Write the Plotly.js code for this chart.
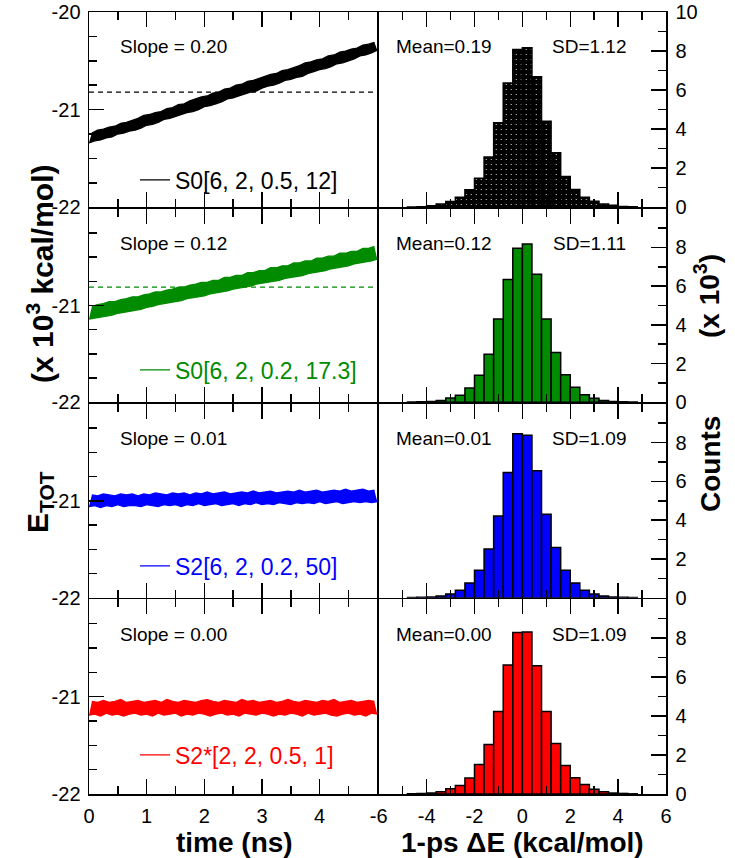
<!DOCTYPE html>
<html><head><meta charset="utf-8">
<script src="https://cdn.plot.ly/plotly-3.0.1.min.js"></script>
<style>html,body{margin:0;padding:0;background:#fff}#chart{width:735px;height:858px}</style>
</head><body><div id="chart"></div>
<script>
// ---- data (lower / upper envelopes of the noisy energy traces) ----
const timeLow = [0,0.1,0.2,0.3,0.4,0.5,0.6,0.7,0.8,0.9,1,1.1,1.2,1.3,1.4,1.5,1.6,1.7,1.8,1.9,
2,2.1,2.2,2.3,2.4,2.5,2.6,2.7,2.8,2.9,3,3.1,3.2,3.3,3.4,3.5,3.6,3.7,3.8,3.9,
4,4.1,4.2,4.3,4.4,4.5,4.6,4.7,4.8,4.9,5];
const timeHigh = [0.05,0.15,0.25,0.35,0.45,0.55,0.65,0.75,0.85,0.95,1.05,1.15,1.25,1.35,1.45,1.55,1.65,1.75,1.85,1.95,
2.05,2.15,2.25,2.35,2.45,2.55,2.65,2.75,2.85,2.95,3.05,3.15,3.25,3.35,3.45,3.55,3.65,3.75,3.85,3.95,
4.05,4.15,4.25,4.35,4.45,4.55,4.65,4.75,4.85,4.95];

const energyALow = [-21.34,-21.32,-21.31,-21.29,-21.28,-21.25,-21.24,-21.22,-21.21,-21.19,
-21.16,-21.15,-21.13,-21.10,-21.09,-21.07,-21.05,-21.03,-21.02,-21.00,
-20.97,-20.96,-20.94,-20.92,-20.89,-20.88,-20.86,-20.84,-20.82,-20.81,
-20.78,-20.76,-20.75,-20.73,-20.70,-20.69,-20.67,-20.66,-20.63,-20.61,
-20.59,-20.58,-20.56,-20.53,-20.52,-20.50,-20.48,-20.45,-20.44,-20.42,-20.39];
const energyAHigh = [-21.24,-21.21,-21.20,-21.18,-21.17,-21.14,-21.13,-21.11,-21.09,-21.06,
-21.05,-21.03,-21.02,-20.99,-20.98,-20.95,-20.94,-20.91,-20.89,-20.87,
-20.86,-20.83,-20.82,-20.79,-20.78,-20.75,-20.74,-20.71,-20.70,-20.68,
-20.66,-20.64,-20.63,-20.60,-20.59,-20.57,-20.55,-20.52,-20.51,-20.49,
-20.48,-20.45,-20.44,-20.41,-20.40,-20.38,-20.37,-20.34,-20.33,-20.31];

const energyBLow = [-21.14,-21.13,-21.12,-21.11,-21.10,-21.08,-21.07,-21.06,-21.05,-21.04,
-21.02,-21.01,-20.99,-20.98,-20.97,-20.96,-20.95,-20.93,-20.92,-20.91,
-20.90,-20.88,-20.87,-20.86,-20.85,-20.83,-20.82,-20.81,-20.80,-20.78,
-20.77,-20.76,-20.75,-20.74,-20.72,-20.71,-20.70,-20.69,-20.67,-20.66,
-20.65,-20.64,-20.62,-20.61,-20.60,-20.59,-20.57,-20.56,-20.55,-20.54,-20.52];
const energyBHigh = [-21.01,-20.99,-20.98,-20.96,-20.96,-20.94,-20.93,-20.91,-20.91,-20.89,
-20.88,-20.86,-20.86,-20.84,-20.83,-20.81,-20.81,-20.79,-20.78,-20.76,
-20.76,-20.74,-20.74,-20.71,-20.71,-20.69,-20.69,-20.66,-20.66,-20.64,
-20.64,-20.61,-20.61,-20.59,-20.59,-20.56,-20.56,-20.54,-20.54,-20.51,
-20.51,-20.49,-20.49,-20.46,-20.46,-20.44,-20.44,-20.41,-20.41,-20.39];

const energyCLow = [-21.06,-21.05,-21.07,-21.05,-21.06,-21.04,-21.06,-21.05,-21.05,-21.06,
-21.04,-21.05,-21.06,-21.04,-21.05,-21.04,-21.06,-21.04,-21.05,-21.03,
-21.05,-21.04,-21.03,-21.05,-21.04,-21.03,-21.05,-21.03,-21.04,-21.02,
-21.04,-21.03,-21.04,-21.02,-21.03,-21.04,-21.02,-21.03,-21.02,-21.03,
-21.01,-21.03,-21.02,-21.01,-21.03,-21.02,-21.01,-21.02,-21.01,-21.02,-21.01];
const energyCHigh = [-20.94,-20.95,-20.93,-20.94,-20.95,-20.93,-20.94,-20.93,-20.95,-20.93,
-20.94,-20.92,-20.93,-20.94,-20.92,-20.93,-20.92,-20.94,-20.92,-20.93,
-20.91,-20.93,-20.92,-20.91,-20.93,-20.92,-20.91,-20.92,-20.90,-20.92,
-20.91,-20.90,-20.92,-20.91,-20.90,-20.91,-20.89,-20.91,-20.90,-20.89,
-20.91,-20.90,-20.89,-20.90,-20.88,-20.90,-20.89,-20.88,-20.90,-20.89];

const energyDLow = [-21.19,-21.18,-21.20,-21.17,-21.19,-21.18,-21.20,-21.18,-21.17,-21.19,
-21.18,-21.20,-21.17,-21.19,-21.18,-21.17,-21.20,-21.18,-21.19,-21.17,
-21.18,-21.20,-21.18,-21.17,-21.19,-21.18,-21.20,-21.17,-21.18,-21.19,
-21.17,-21.18,-21.20,-21.18,-21.19,-21.17,-21.18,-21.20,-21.17,-21.19,
-21.18,-21.17,-21.19,-21.20,-21.18,-21.17,-21.19,-21.18,-21.20,-21.17,-21.18];
const energyDHigh = [-21.05,-21.06,-21.04,-21.06,-21.05,-21.03,-21.06,-21.05,-21.04,-21.06,
-21.05,-21.04,-21.06,-21.03,-21.05,-21.06,-21.04,-21.05,-21.06,-21.04,
-21.03,-21.05,-21.06,-21.04,-21.05,-21.06,-21.03,-21.05,-21.04,-21.06,
-21.05,-21.04,-21.06,-21.05,-21.03,-21.05,-21.06,-21.04,-21.05,-21.06,
-21.04,-21.05,-21.03,-21.06,-21.05,-21.04,-21.06,-21.05,-21.04,-21.05];

const meanLevels = [-20.82, -20.81, null, null];
const meanSpan = [0, 5];

const binCenters = [-4.6,-4.2,-3.8,-3.4,-3.0,-2.6,-2.2,-1.8,-1.4,-1.0,-0.6,-0.2,
0.2,0.6,1.0,1.4,1.8,2.2,2.6,3.0,3.4,3.8,4.2,4.6];
const countsA = [0.01,0.02,0.08,0.17,0.29,0.51,0.89,1.49,2.57,4.33,6.37,8.08,
8.17,6.68,4.40,2.79,1.58,0.91,0.51,0.31,0.17,0.10,0.04,0.02];
const countsB = [0.01,0.02,0.04,0.09,0.22,0.36,0.74,1.39,2.48,4.30,6.34,7.96,
8.18,6.61,4.30,2.57,1.42,0.77,0.39,0.21,0.09,0.04,0.02,0.01];
const countsC = [0.01,0.02,0.04,0.09,0.19,0.39,0.76,1.42,2.51,4.22,6.45,8.46,
8.38,6.54,4.31,2.59,1.42,0.76,0.39,0.19,0.09,0.04,0.02,0.01];
const countsD = [0.01,0.03,0.05,0.12,0.27,0.44,0.82,1.51,2.54,4.24,6.62,8.29,
8.32,6.59,4.24,2.59,1.46,0.83,0.49,0.24,0.12,0.05,0.03,0.01];

const seriesNames = ['S0[6, 2, 0.5, 12]','S0[6, 2, 0.2, 17.3]','S2[6, 2, 0.2, 50]','S2*[2, 2, 0.5, 1]'];
const slopes = ['0.20','0.12','0.01','0.00'];
const means = ['0.19','0.12','0.01','0.00'];
const sds = ['1.12','1.11','1.09','1.09'];
const colors = ['#000000','#008b00','#0000ff','#ff0000'];
const xTimeTicks = [0,1,2,3,4];
const xTimeLabels = ['0','1','2','3','4'];
const xDeTicks = [-6,-4,-2,0,2,4,6];
const xDeLabels = ['-6','-4','-2','0','2','4','6'];
const yETicksTop = [-22,-21,-20];
const yELabelsTop = ['-22','-21','-20'];
const yETicks = [-22,-21];
const yELabels = ['-22','-21'];
const yCTicksTop = [0,2,4,6,8,10];
const yCLabelsTop = ['0','2','4','6','8','10'];
const yCTicks = [0,2,4,6,8];
const yCLabels = ['0','2','4','6','8'];

// ---- layout ----
const lows = [energyALow, energyBLow, energyCLow, energyDLow];
const highs = [energyAHigh, energyBHigh, energyCHigh, energyDHigh];
const counts = [countsA, countsB, countsC, countsD];
const W = 735, H = 858;
const F = 'Liberation Sans, Arial, Helvetica, sans-serif';
// rows: [top, bottom] in px; a 1.5px gap lets the outward-drawn frame lines coincide
const rowPx = [[12, 207.25], [208.75, 402.25], [403.75, 597.75], [599.25, 794]];
const xL0 = 89, xMid = 377.25, xMid2 = 378.75, xR1 = 666;
const legY = [180, 370, 566, 755];

const traces = [];
const layout = {
  width: W, height: H, margin: {l:0, r:0, t:0, b:0},
  paper_bgcolor: '#fff', plot_bgcolor: 'rgba(0,0,0,0)',
  bargap: 0, showlegend: true, annotations: []
};
const base = {showline:true, linecolor:'black', linewidth:1.5, ticks:'inside',
  tickcolor:'black', tickwidth:1.5, ticklen:15, showgrid:false, zeroline:false,
  tickfont:{family:F, size:20, color:'black'}, fixedrange:true};
const minorBase = {ticks:'inside', ticklen:8, tickwidth:1.5, tickcolor:'black', showgrid:false};

for (let r = 0; r < 4; r++) {
  const iL = 2*r+1, iR = 2*r+2;
  const nm = i => (i === 1 ? '' : String(i));
  const yd = [1 - rowPx[r][1]/H, 1 - rowPx[r][0]/H];
  const bottom = (r === 3);
  layout['xaxis'+nm(iL)] = Object.assign({}, base, {
    domain:[xL0/W, xMid/W], range:[0,5], anchor:'y'+nm(iL), mirror:'allticks',
    tickmode:'array', tickvals:xTimeTicks, ticktext:xTimeLabels, showticklabels:bottom,
    ticklabelstandoff: 3,
    minor: Object.assign({}, minorBase, {tickmode:'linear', tick0:0, dtick:0.5})
  });
  layout['yaxis'+nm(iL)] = Object.assign({}, base, {
    domain:yd, range:[-22,-20], anchor:'x'+nm(iL), mirror:true,
    tickmode:'array', tickvals: r === 0 ? yETicksTop : yETicks,
    ticktext: r === 0 ? yELabelsTop : yELabels,
    ticklabelstandoff: 3,
    minor: Object.assign({}, minorBase, {tickmode:'linear', tick0:-22, dtick:0.25})
  });
  layout['xaxis'+nm(iR)] = Object.assign({}, base, {
    domain:[xMid2/W, xR1/W], range:[-6,6], anchor:'y'+nm(iR), mirror:'allticks',
    tickmode:'array', tickvals:xDeTicks, ticktext:xDeLabels, showticklabels:bottom,
    ticklabelstandoff: 3,
    minor: Object.assign({}, minorBase, {tickmode:'linear', tick0:0, dtick:1})
  });
  layout['yaxis'+nm(iR)] = Object.assign({}, base, {
    domain:yd, range:[0,10], anchor:'x'+nm(iR), side:'right', mirror:false,
    tickmode:'array', tickvals: r === 0 ? yCTicksTop : yCTicks,
    ticktext: r === 0 ? yCLabelsTop : yCLabels,
    ticklabelstandoff: 4,
    minor: Object.assign({}, minorBase, {tickmode:'linear', tick0:0, dtick:1})
  });

  const legName = r === 0 ? 'legend' : 'legend' + (r+1);
  layout[legName] = {x: 135/W, xanchor:'left', y: 1 - legY[r]/H, yanchor:'middle',
    bgcolor:'rgba(0,0,0,0)', borderwidth:0, font:{family:F, size:23, color:colors[r]},
    itemwidth:30};

  if (meanLevels[r] !== null) {
    traces.push({x:meanSpan, y:[meanLevels[r], meanLevels[r]],
      xaxis:'x'+nm(iL), yaxis:'y'+nm(iL), mode:'lines', showlegend:false,
      line:{color:colors[r], width:1.3, dash:'5px,4px'}, hoverinfo:'skip'});
  }
  traces.push({x:timeLow, y:lows[r], xaxis:'x'+nm(iL), yaxis:'y'+nm(iL),
    mode:'lines', name:seriesNames[r], legend:legName, showlegend:true,
    line:{color:colors[r], width:1.3}});
  traces.push({x:timeHigh, y:highs[r], xaxis:'x'+nm(iL), yaxis:'y'+nm(iL),
    mode:'lines', showlegend:false, fill:'tonexty', fillcolor:colors[r],
    line:{color:colors[r], width:1.3}});

  const marker = {color:colors[r], line:{color:'black', width:1.5}};
  if (r === 0) {
    marker.pattern = {shape:'.', fillmode:'replace', bgcolor:'#000000', fgcolor:'#ffffff', size:5, solidity:0.04};
  }
  traces.push({type:'bar', x:binCenters, y:counts[r], width:0.4, xaxis:'x'+nm(iR), yaxis:'y'+nm(iR),
    marker:marker, showlegend:false});

  const ty = 1 - (rowPx[r][0] + 35)/H;
  const af = {family:F, size:19, color:'black'};
  layout.annotations.push({xref:'paper', yref:'paper', x:118/W, y:ty, xanchor:'left', yanchor:'middle',
    text:'Slope = ' + slopes[r], showarrow:false, font:af});
  layout.annotations.push({xref:'paper', yref:'paper', x:394/W, y:ty, xanchor:'left', yanchor:'middle',
    text:'Mean=' + means[r], showarrow:false, font:af});
  layout.annotations.push({xref:'paper', yref:'paper', x:628/W, y:ty, xanchor:'right', yanchor:'middle',
    text:'SD=' + sds[r], showarrow:false, font:af});
}

const tf = {family:F, size:28, color:'black'};
const tf2 = {family:F, size:30, color:'black'};
layout.annotations.push(
  {xref:'paper', yref:'paper', x:234/W, y:1-842/H, text:'<b>time (ns)</b>', showarrow:false, font:tf, xanchor:'center', yanchor:'middle'},
  {xref:'paper', yref:'paper', x:522/W, y:1-842/H, text:'<b>1-ps ΔE (kcal/mol)</b>', showarrow:false, font:tf, xanchor:'center', yanchor:'middle'},
  {xref:'paper', yref:'paper', x:40/W, y:1-502/H, text:'<b>E<sub>TOT</sub></b>', textangle:-90, showarrow:false, font:tf2, xanchor:'center', yanchor:'middle'},
  {xref:'paper', yref:'paper', x:40/W, y:1-274/H, text:'<b>(x 10<sup>3</sup> kcal/mol)</b>', textangle:-90, showarrow:false, font:tf2, xanchor:'center', yanchor:'middle'},
  {xref:'paper', yref:'paper', x:710/W, y:1-464/H, text:'<b>Counts</b>', textangle:-90, showarrow:false, font:tf, xanchor:'center', yanchor:'middle'},
  {xref:'paper', yref:'paper', x:707/W, y:1-296/H, text:'<b>(x 10<sup>3</sup>)</b>', textangle:-90, showarrow:false, font:tf, xanchor:'center', yanchor:'middle'}
);

Plotly.newPlot('chart', traces, layout, {displayModeBar:false, staticPlot:true});
</script>
</body></html>
